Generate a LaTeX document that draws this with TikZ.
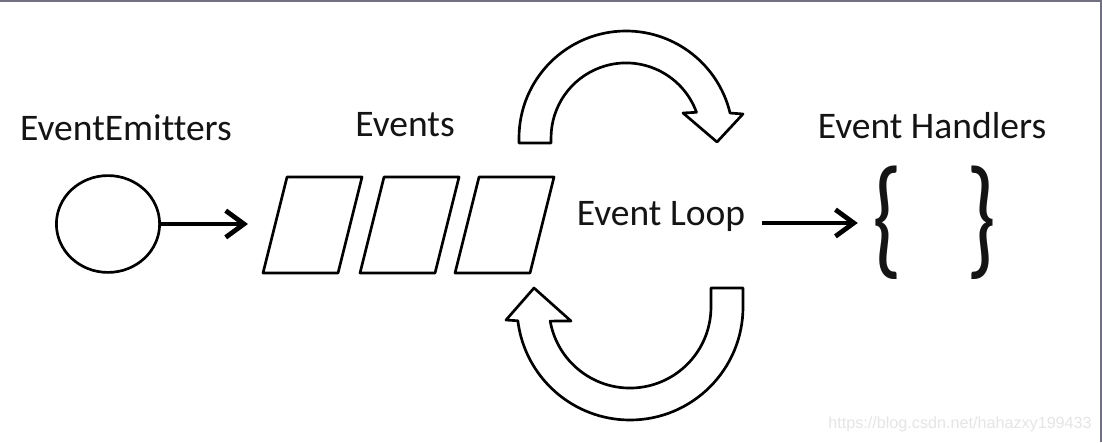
\documentclass[tikz,border=0pt]{standalone}
\usepackage{fontspec}
\setmainfont{Carlito}[Ligatures=NoCommon]
\newfontfamily\urlfont{Liberation Sans}
\usepackage{xcolor}
\usetikzlibrary{arrows.meta, shapes.geometric}
\definecolor{inkgray}{HTML}{141414}
\definecolor{framegray}{HTML}{707080}

\begin{document}
\begin{tikzpicture}[
  x=0.025cm, y=0.025cm,
  txt/.style={text=inkgray, font=\fontsize{26.7pt}{32pt}\selectfont},
  emitter/.style={ellipse, draw, line width=1.9pt, minimum width=2.58cm, minimum height=2.42cm},
  evbox/.style={draw, line width=1.9pt, line join=round},
  turn/.style={draw, fill=white, line width=1.9pt, line join=round},
  flow/.style={line width=2.2pt, -{Straight Barb[length=13pt, width=19pt, line width=3.4pt]}},
  brace/.style={inner sep=0pt, text=inkgray, xscale=0.72, font=\fontsize{94pt}{94pt}\selectfont},
  wmark/.style={inner sep=0pt, text=gray!20, font=\urlfont\fontsize{11.5pt}{13pt}\selectfont}
]
  \useasboundingbox[fill=white] (0,0) rectangle (1102,442);
  \draw[framegray, line width=0.05cm] (0,441) -- (1101,441) -- (1101,0);

  % Left: emitter and the event queue
  \node[emitter] (emit) at (108,218) {};
  \node[txt, anchor=base] (emitlbl) at (126,302) {EventEmitters};
  \foreach \x in {263,360,455}
    \draw[evbox] (\x,169) -- ++(75,0) -- ++(24,96) -- ++(-75,0) -- cycle;
  \coordinate (qin) at (248,218);
  \node[txt, anchor=base] (evlbl) at (405,305) {Events};
  \draw[flow] (emit) -- (qin);

  % Middle: the loop
  \draw[turn] (519,299) -- (519,304) arc[start angle=180, end angle=13.5, radius=107]
    -- (743,328) -- (717,300) -- (683,329) -- (696.5,329.7)
    arc[start angle=20, end angle=180, radius=75] -- (551,299) -- cycle;
  \draw[turn] (743,154) -- (743,135) arc[start angle=0, end angle=-173, radius=113]
    -- (506,122) -- (534,154) -- (571,121) -- (550.2,120.9)
    arc[start angle=-170, end angle=0, radius=81] -- (711,154) -- cycle;
  \node[txt, anchor=base] (loop) at (661,217) {Event Loop};

  % Right: handlers
  \node[txt, anchor=base] (hlbl) at (932,303) {Event Handlers};
  \node[brace] (lbrace) at (887,219) {\{};
  \node[brace] (rbrace) at (981,219) {\}};
  \draw[flow, shorten >=10pt] (loop.base east) ++(12,2) -- (lbrace);

  \node[wmark, anchor=base east] (url) at (1092,14) {https://blog.csdn.net/hahazxy199433};
\end{tikzpicture}
\end{document}
